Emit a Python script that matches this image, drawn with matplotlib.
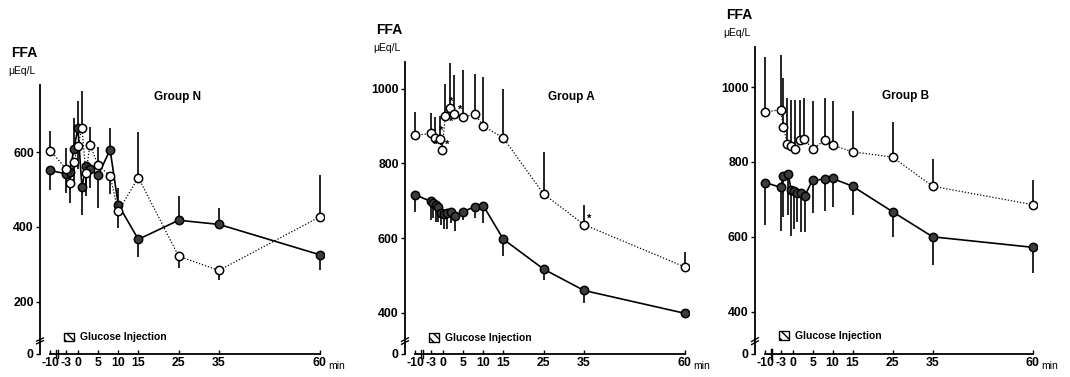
import numpy as np
import matplotlib
matplotlib.use('Agg')
import matplotlib.pyplot as plt
from matplotlib.patches import Patch
from matplotlib.transforms import blended_transform_factory

# ---- data (FFA, uEq/L) ----
n_t_fill = [-10, -3, -2, -1, 0, 1, 2, 3, 5, 8, 10, 15, 25, 35, 60]
n_fill = [551, 542, 548, 607, 664, 507, 562, 555, 538, 606, 460, 367, 418, 407, 326]
n_fill_err = [-53, -52, -50, 85, 71, -76, -60, -50, -86, 57, 43, -47, 64, 43, -42]
n_t_open = [-10, -3, -2, -1, 0, 1, 2, 3, 5, 8, 10, 15, 25, 35, 60]
n_open = [604, 556, 518, 573, 615, 665, 543, 620, 565, 536, 442, 532, 322, 284, 427]
n_open_err = [53, 56, -55, -50, -60, 98, -60, 47, 48, -49, -46, 121, -32, -26, 111]

a_t_fill = [-10, -3, -2.4, -1.7, -1.1, -0.4, 0.3, 1, 2, 3, 5, 8, 10, 15, 25, 35, 60]
a_fill = [716, 698, 693, 689, 684, 667, 664, 667, 671, 660, 671, 684, 687, 597, 517, 460, 396]
a_fill_err = [-45, -49, -40, -45, -40, -31, -40, -44, -30, -42, -22, -31, -47, -46, -28, -33, -32]
a_t_open = [-10, -3, -2, -0.8, -0.2, 0.6, 1.8, 2.7, 5, 8, 10, 15, 25, 35, 60]
a_open = [875, 880, 869, 864, 835, 927, 947, 931, 924, 931, 900, 868, 718, 636, 523]
a_open_err = [63, 55, 55, 62, 40, 86, 120, 104, 125, 109, 131, 132, 113, 53, 41]

b_t_fill = [-10, -3, -2.3, -1.1, -0.4, 0.4, 1.2, 2, 3, 5, 8, 10, 15, 25, 35, 60]
b_fill = [745, 732, 762, 769, 726, 722, 718, 716, 709, 751, 754, 756, 735, 667, 600, 572]
b_fill_err = [-114, -116, -109, -111, -124, -102, -78, -103, -96, -87, -85, -76, -77, -67, -75, -68]
b_t_open = [-10, -3, -2.3, -1.3, -0.3, 0.7, 1.8, 2.9, 5, 8, 10, 15, 25, 35, 60]
b_open = [933, 940, 893, 849, 843, 834, 858, 862, 834, 858, 845, 827, 813, 735, 686]
b_open_err = [147, 145, 132, 122, 123, 131, 107, 110, 128, 113, 117, 109, 94, 72, 65]

x_ticks = [-10, -3, 0, 5, 10, 15, 25, 35, 60]
x_labels = ['-10', '-3', '0', '5', '10', '15', '25', '35', '60']

SANS = ['Liberation Sans', 'DejaVu Sans']
W, H = 1070, 377


def xfwd(t):
    t = np.asarray(t, float)
    return np.where(t >= -3, t, -3 + (t + 3) * 0.55)


def xinv(p):
    p = np.asarray(p, float)
    return np.where(p >= -3, p, -3 + (p + 3) / 0.55)


def ybreak(b, g):
    def f(v):
        v = np.asarray(v, float)
        return np.where(v >= b, v, b - g + v * g / b)

    def fi(p):
        p = np.asarray(p, float)
        return np.where(p >= b, p, (p - (b - g)) * b / g)
    return f, fi


def panel(left_px, width_px, top_px, b, g, ytop, yticks, title, title_pos, leg_y,
          tf, vf, ef, to, vo, eo):
    bottom_px = 354
    ax = fig.add_axes([left_px / W, (H - bottom_px) / H,
                       width_px / W, (bottom_px - top_px) / H])
    ax.set_xscale('function', functions=(xfwd, xinv))
    ax.set_yscale('function', functions=ybreak(b, g))
    ax.set_xlim(float(xinv(-9.4)), 61)
    ax.set_ylim(0, ytop)

    # error bars (one sided)
    tf_, vf_, ef_ = map(np.asarray, (tf, vf, ef))
    to_, vo_, eo_ = map(np.asarray, (to, vo, eo))
    ax.vlines(tf_, vf_, vf_ + ef_, color='black', lw=1.2, zorder=2)
    ax.vlines(to_, vo_, vo_ + eo_, color='black', lw=1.2, zorder=2)

    ax.plot(to_, vo_, ls=(0, (1, 1.5)), color='black', lw=0.9, marker='o', ms=6,
            mfc='white', mec='black', mew=1.1, zorder=4)
    ax.plot(tf_, vf_, ls='-', color='black', lw=1.2, marker='o', ms=6,
            mfc='#3c3c3c', mec='black', mew=1.1, zorder=3)

    for s in ('top', 'right'):
        ax.spines[s].set_visible(False)
    ax.spines['left'].set_linewidth(1.3)
    ax.spines['bottom'].set_linewidth(1.3)
    ax.spines['bottom'].set_bounds(-10, 60)

    ax.set_yticks(yticks)
    ax.set_yticklabels([str(v) for v in yticks])
    ax.set_xticks(x_ticks)
    ax.set_xticklabels(x_labels)
    ax.minorticks_off()
    ax.tick_params(axis='y', direction='out', length=3, width=1, pad=1.5)
    ax.tick_params(axis='x', direction='in', length=3, width=1, pad=2)
    for lab in ax.get_xticklabels() + ax.get_yticklabels():
        lab.set_fontfamily(SANS)
        lab.set_fontweight('bold')
        lab.set_fontsize(8.8)

    hpx = bottom_px - top_px
    # y-axis break
    yb = 15 / hpx
    ax.plot([-0.012, 0.012], [yb - 0.008, yb + 0.004], transform=ax.transAxes,
            color='black', lw=1, clip_on=False)
    ax.plot([-0.012, 0.012], [yb - 0.018, yb - 0.006], transform=ax.transAxes,
            color='black', lw=1, clip_on=False)
    # x-axis break
    bt = blended_transform_factory(ax.transData, ax.transAxes)
    for xb in (-7.3, -6.7):
        ax.plot([xb, xb], [-0.015, 0.015], transform=bt, color='black', lw=1,
                clip_on=False)

    ax.annotate('FFA', xy=(0, 1), xycoords='axes fraction', xytext=(-21, 28),
                textcoords='offset points', ha='left', va='top',
                fontfamily=SANS, fontweight='bold', fontsize=10)
    ax.annotate('\u03bcEq/L', xy=(0, 1), xycoords='axes fraction', xytext=(-23, 14),
                textcoords='offset points', ha='left', va='top',
                fontfamily=SANS, fontsize=7.5)
    ax.text(title_pos[0], title_pos[1], title, transform=ax.transAxes,
            ha='center', va='center', fontfamily=SANS, fontweight='bold',
            fontsize=8.5)
    ax.annotate('min', xy=(60, 0), xycoords=ax.get_xaxis_transform(),
                xytext=(6, -10.5), textcoords='offset points', ha='left',
                va='baseline', fontfamily=SANS, fontsize=7.5)

    handle = Patch(facecolor='white', edgecolor='black', hatch='\\\\\\\\', lw=1)
    ax.legend([handle], ['Glucose Injection'], loc='center left',
              bbox_to_anchor=(24 / width_px, leg_y), frameon=False,
              handlelength=1.0, handleheight=0.9, handletextpad=0.5,
              borderaxespad=0, borderpad=0,
              prop={'family': SANS, 'weight': 'bold', 'size': 7.5})
    return ax


fig = plt.figure(figsize=(W / 100, H / 100), dpi=100)

panel(40, 283.7, 85, 200, 139, 779, [0, 200, 400, 600], 'Group N', (0.483, 0.955),
      16.5 / 269, n_t_fill, n_fill, n_fill_err, n_t_open, n_open, n_open_err)

ax_a = panel(405, 283.7, 62, 400, 110, 1071, [0, 400, 600, 800, 1000], 'Group A',
             (0.585, 0.88), 16 / 292, a_t_fill, a_fill, a_fill_err,
             a_t_open, a_open, a_open_err)

panel(755, 281.6, 47, 400, 113, 1107, [0, 400, 600, 800, 1000], 'Group B',
      (0.533, 0.84), 18 / 307, b_t_fill, b_fill, b_fill_err,
      b_t_open, b_open, b_open_err)

# significance marks in group A (index into open series, offset in points)
stars = [(2, 0.5, -5), (3, 1, 6), (4, 4, 4), (5, 4, -4), (6, 1, 5), (6, 7, -1), (13, 4, 4)]
for i, dx, dy in stars:
    ax_a.annotate('*', xy=(a_t_open[i], a_open[i]), xytext=(dx, dy),
                  textcoords='offset points', ha='center', va='center',
                  fontsize=8, fontweight='bold', fontfamily=SANS, zorder=5)

fig.savefig('out.png', dpi=100, facecolor='white')
